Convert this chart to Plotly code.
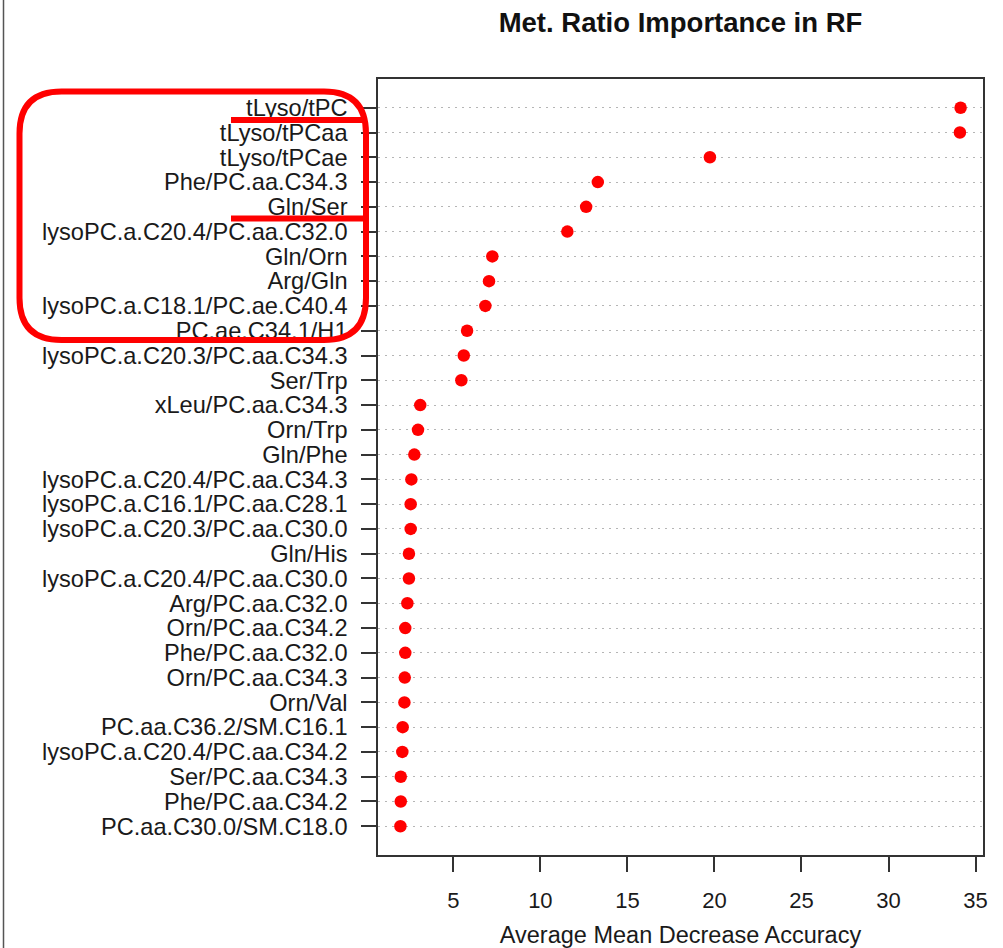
import plotly.graph_objects as go

# ---- data (top to bottom as displayed) ----
labels = [
    "tLyso/tPC", "tLyso/tPCaa", "tLyso/tPCae", "Phe/PC.aa.C34.3", "Gln/Ser",
    "lysoPC.a.C20.4/PC.aa.C32.0", "Gln/Orn", "Arg/Gln", "lysoPC.a.C18.1/PC.ae.C40.4",
    "PC.ae.C34.1/H1", "lysoPC.a.C20.3/PC.aa.C34.3", "Ser/Trp", "xLeu/PC.aa.C34.3",
    "Orn/Trp", "Gln/Phe", "lysoPC.a.C20.4/PC.aa.C34.3", "lysoPC.a.C16.1/PC.aa.C28.1",
    "lysoPC.a.C20.3/PC.aa.C30.0", "Gln/His", "lysoPC.a.C20.4/PC.aa.C30.0",
    "Arg/PC.aa.C32.0", "Orn/PC.aa.C34.2", "Phe/PC.aa.C32.0", "Orn/PC.aa.C34.3",
    "Orn/Val", "PC.aa.C36.2/SM.C16.1", "lysoPC.a.C20.4/PC.aa.C34.2",
    "Ser/PC.aa.C34.3", "Phe/PC.aa.C34.2", "PC.aa.C30.0/SM.C18.0",
]
importance = [
    34.14, 34.10, 19.74, 13.30, 12.63,
    11.55, 7.24, 7.05, 6.84,
    5.79, 5.60, 5.46, 3.10,
    2.97, 2.76, 2.59, 2.55,
    2.55, 2.45, 2.45,
    2.36, 2.24, 2.24, 2.21,
    2.19, 2.09, 2.07,
    1.98, 1.98, 1.96,
]
x_ticks = [5, 10, 15, 20, 25, 30, 35]

title_text = "Met. Ratio Importance in RF"
x_title = "Average Mean Decrease Accuracy"

n = len(labels)
ypos = [n - i for i in range(n)]  # top row -> n

# R-style 4% axis extension
xr = max(importance) - min(importance)
x_range = [min(importance) - 0.04 * xr, max(importance) + 0.04 * xr]
yr = n - 1
y_range = [1 - 0.04 * yr, n + 0.04 * yr]

W, H = 1003, 948
L, R, T, B = 378, 983, 79, 855
pw, ph = R - L, B - T


def px2x(px):
    return (px - L) / pw


def py2y(py):
    return (B - py) / ph


FONT = "Liberation Sans, Arial, sans-serif"

fig = go.Figure()
fig.add_trace(go.Scatter(
    x=importance, y=ypos, mode="markers",
    marker=dict(color="#ff0000", size=12.5, line=dict(width=0)),
    hoverinfo="x+text", text=labels, showlegend=False,
))

axis_common = dict(
    showline=True, linecolor="#333333", linewidth=1.5, mirror=True,
    ticks="outside", ticklen=15, tickwidth=1.5, tickcolor="#333333",
    zeroline=False, automargin=False,
)

fig.update_layout(
    width=W, height=H,
    margin=dict(l=L, r=W - R, t=T, b=H - B, pad=0, autoexpand=False),
    paper_bgcolor="white", plot_bgcolor="white",
    font=dict(family=FONT, color="#1a1a1a"),
    title=dict(text="<b>" + title_text + "</b>", x=(L + pw / 2) / W,
               xanchor="center", y=1 - 22 / H, yanchor="middle",
               font=dict(size=27.5, color="#111111", family=FONT)),
    xaxis=dict(
        range=x_range, tickvals=x_ticks, ticktext=[str(v) for v in x_ticks],
        showgrid=False, tickfont=dict(size=22), ticklabelstandoff=10,
        title=dict(text=x_title, font=dict(size=23.5), standoff=19),
        **axis_common,
    ),
    yaxis=dict(
        range=y_range, tickvals=ypos, ticktext=labels,
        showgrid=True, gridcolor="#b5b5b5", griddash="2px,5px", gridwidth=1,
        tickfont=dict(size=23.6), ticklabelstandoff=9,
        **axis_common,
    ),
)

shapes = []
# left border line of the image
shapes.append(dict(type="line", xref="paper", yref="paper",
                   x0=px2x(3.5), x1=px2x(3.5), y0=py2y(0), y1=py2y(H),
                   line=dict(color="#555555", width=1.5)))

# red rounded rectangle
lx, rx, ty, by, rad = 19.5, 366, 91.5, 340, 42
pts = [
    ("M", lx + rad, ty), ("L", rx - rad, ty), ("Q", rx, ty, rx, ty + rad),
    ("L", rx, by - rad), ("Q", rx, by, rx - rad, by), ("L", lx + rad, by),
    ("Q", lx, by, lx, by - rad), ("L", lx, ty + rad), ("Q", lx, ty, lx + rad, ty),
]
path = ""
for p in pts:
    cmd = p[0]
    coords = p[1:]
    parts = []
    for i in range(0, len(coords), 2):
        parts.append(f"{px2x(coords[i]):.5f},{py2y(coords[i+1]):.5f}")
    path += cmd + " " + " ".join(parts) + " "
path += "Z"
shapes.append(dict(type="path", xref="paper", yref="paper", path=path,
                   line=dict(color="#ff0000", width=6), fillcolor="rgba(0,0,0,0)"))

# red underline strokes
for yy in (120, 218.5):
    shapes.append(dict(type="line", xref="paper", yref="paper",
                       x0=px2x(231), x1=px2x(364), y0=py2y(yy), y1=py2y(yy),
                       line=dict(color="#ff0000", width=6)))

fig.update_layout(shapes=shapes)

fig.write_html("out.html")
